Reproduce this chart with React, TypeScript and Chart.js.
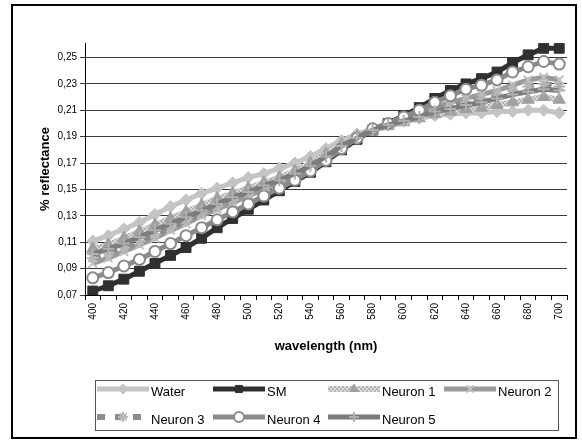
import React, { useEffect, useRef } from "react";
import { Chart, registerables } from "chart.js";
import { drawPoint } from "chart.js/helpers";

Chart.register(...registerables);

const wavelengths = [
  "400", "410", "420", "430", "440", "450", "460", "470", "480", "490", "500",
  "510", "520", "530", "540", "550", "560", "570", "580", "590", "600",
  "610", "620", "630", "640", "650", "660", "670", "680", "690", "700",
];

const yTicks = [0.07, 0.09, 0.11, 0.13, 0.15, 0.17, 0.19, 0.21, 0.23, 0.25];

const water = [
  0.111, 0.115, 0.12, 0.125, 0.131, 0.137, 0.142, 0.147, 0.151, 0.155, 0.159,
  0.162, 0.166, 0.17, 0.175, 0.181, 0.187, 0.192, 0.196, 0.199, 0.202,
  0.204, 0.206, 0.207, 0.208, 0.208, 0.209, 0.209, 0.21, 0.21, 0.208,
];
const sm = [
  0.073, 0.077, 0.082, 0.088, 0.094, 0.1, 0.106, 0.113, 0.121, 0.128, 0.135,
  0.142, 0.149, 0.156, 0.163, 0.171, 0.18, 0.188, 0.195, 0.2, 0.206,
  0.212, 0.219, 0.225, 0.23, 0.234, 0.239, 0.246, 0.252, 0.257, 0.257,
];
const neuron1 = [
  0.105, 0.108, 0.113, 0.118, 0.123, 0.128, 0.133, 0.138, 0.143, 0.147, 0.151,
  0.155, 0.159, 0.164, 0.17, 0.177, 0.184, 0.19, 0.195, 0.198, 0.201,
  0.204, 0.207, 0.209, 0.211, 0.212, 0.214, 0.216, 0.218, 0.22, 0.218,
];
const neuron2 = [
  0.094, 0.098, 0.103, 0.108, 0.113, 0.119, 0.124, 0.13, 0.135, 0.14, 0.145,
  0.15, 0.155, 0.16, 0.166, 0.174, 0.182, 0.189, 0.195, 0.199, 0.203,
  0.207, 0.212, 0.216, 0.219, 0.222, 0.225, 0.229, 0.233, 0.235, 0.233,
];
const neuron3 = [
  0.098, 0.102, 0.106, 0.111, 0.116, 0.121, 0.127, 0.132, 0.137, 0.142, 0.146,
  0.151, 0.156, 0.161, 0.167, 0.175, 0.182, 0.189, 0.195, 0.199, 0.202,
  0.206, 0.21, 0.213, 0.216, 0.219, 0.222, 0.225, 0.228, 0.23, 0.228,
];
const neuron4 = [
  0.083, 0.087, 0.092, 0.097, 0.103, 0.109, 0.115, 0.121, 0.127, 0.133, 0.139,
  0.145, 0.151, 0.157, 0.164, 0.172, 0.181, 0.189, 0.196, 0.2, 0.205,
  0.21, 0.216, 0.221, 0.226, 0.229, 0.233, 0.239, 0.243, 0.247, 0.245,
];
const neuron5 = [
  0.101, 0.105, 0.109, 0.114, 0.119, 0.124, 0.129, 0.134, 0.139, 0.144, 0.148,
  0.153, 0.157, 0.162, 0.168, 0.175, 0.183, 0.189, 0.195, 0.199, 0.202,
  0.205, 0.209, 0.211, 0.214, 0.216, 0.219, 0.222, 0.224, 0.226, 0.225,
];

const seriesNames = ["Water", "SM", "Neuron 1", "Neuron 2", "Neuron 3", "Neuron 4", "Neuron 5"];

const FONT = "Arial, 'Liberation Sans', sans-serif";

export default function App() {
  const ref = useRef<HTMLCanvasElement | null>(null);

  useEffect(() => {
    if (!ref.current) return;

    const pc = document.createElement("canvas");
    pc.width = 4;
    pc.height = 4;
    const px = pc.getContext("2d")!;
    px.fillStyle = "#dadada";
    px.fillRect(0, 0, 4, 4);
    px.fillStyle = "#b4b4b4";
    px.fillRect(0, 0, 2, 2);
    px.fillRect(2, 2, 2, 2);
    const pattern = px.createPattern(pc, "repeat")!;

    const styles = [
      { data: water, color: "#c4c4c4", point: "rectRot", pFill: "#c4c4c4", pBorder: "#c4c4c4", r: 6, bw: 1, dash: [] as number[], lw: 5 },
      { data: sm, color: "#303030", point: "rect", pFill: "#303030", pBorder: "#303030", r: 7, bw: 1, dash: [], lw: 5 },
      { data: neuron1, color: pattern as any, point: "triangle", pFill: "#a0a0a0", pBorder: "#a0a0a0", r: 7, bw: 1, dash: [], lw: 6 },
      { data: neuron2, color: "#9a9a9a", point: "crossRot", pFill: "#c0c0c0", pBorder: "#c0c0c0", r: 6, bw: 2, dash: [], lw: 5 },
      { data: neuron3, color: "#8c8c8c", point: "star", pFill: "#b8b8b8", pBorder: "#b8b8b8", r: 6, bw: 2, dash: [8, 10], lw: 6 },
      { data: neuron4, color: "#8a8a8a", point: "circle", pFill: "#ffffff", pBorder: "#8a8a8a", r: 5.5, bw: 2, dash: [], lw: 5 },
      { data: neuron5, color: "#7c7c7c", point: "cross", pFill: "#b0b0b0", pBorder: "#b0b0b0", r: 6, bw: 2, dash: [], lw: 5 },
    ];

    const datasets = styles.map((s, i) => ({
      label: seriesNames[i],
      data: s.data,
      borderColor: s.color,
      borderWidth: s.lw,
      borderDash: s.dash,
      pointStyle: s.point as any,
      pointBackgroundColor: s.pFill,
      pointBorderColor: s.pBorder,
      pointBorderWidth: s.bw,
      pointRadius: s.r,
      pointHoverRadius: s.r,
      tension: 0,
      fill: false,
      order: 6 - i,
    }));

    const frame = {
      id: "frame",
      beforeDraw(chart: any) {
        const ctx = chart.ctx;
        ctx.save();
        ctx.fillStyle = "#ffffff";
        ctx.fillRect(0, 0, chart.width, chart.height);
        ctx.strokeStyle = "#000000";
        ctx.lineWidth = 2;
        ctx.strokeRect(12, 5, 564, 433);
        ctx.restore();
      },
      afterDraw(chart: any) {
        const ctx = chart.ctx;
        ctx.save();
        ctx.strokeStyle = "#555555";
        ctx.lineWidth = 1;
        ctx.strokeRect(95.5, 380.5, 463, 50);
        const cols = [97, 213, 328, 444];
        const rows = [392, 420];
        ctx.font = `13px ${FONT}`;
        ctx.textBaseline = "middle";
        ctx.textAlign = "left";
        styles.forEach((s, i) => {
          const col = i < 4 ? i : i - 4;
          const row = i < 4 ? 0 : 1;
          const x0 = cols[col];
          const y = rows[row] - 3;
          ctx.save();
          ctx.strokeStyle = s.color;
          ctx.lineWidth = s.lw;
          ctx.setLineDash(s.dash);
          ctx.beginPath();
          ctx.moveTo(x0, y);
          ctx.lineTo(x0 + 52, y);
          ctx.stroke();
          ctx.restore();
          ctx.save();
          ctx.fillStyle = s.pFill;
          ctx.strokeStyle = s.pBorder;
          ctx.lineWidth = s.bw;
          drawPoint(ctx, { pointStyle: s.point as any, radius: Math.min(s.r, 5), rotation: 0, borderWidth: s.bw }, x0 + 26, y);
          ctx.restore();
          ctx.fillStyle = "#000000";
          ctx.fillText(seriesNames[i], x0 + 54, rows[row]);
        });
        ctx.restore();
      },
    };

    const chart = new Chart(ref.current, {
      type: "line",
      data: { labels: wavelengths, datasets },
      plugins: [frame],
      options: {
        responsive: false,
        animation: false,
        events: [],
        layout: { padding: { left: 34, top: 43, right: 15, bottom: 85 } },
        plugins: { legend: { display: false }, tooltip: { enabled: false } },
        scales: {
          x: {
            type: "category",
            offset: true,
            afterFit(scale: any) {
              scale.height = 63;
            },
            grid: {
              offset: true,
              drawOnChartArea: false,
              drawTicks: true,
              tickLength: 5,
              color: "#000000",
            },
            border: { display: true, color: "#000000", width: 1 },
            ticks: {
              autoSkip: false,
              minRotation: 90,
              maxRotation: 90,
              padding: 3,
              color: "#000000",
              font: { family: FONT, size: 10 },
              callback: (_v: any, idx: number) => (idx % 2 === 0 ? wavelengths[idx] : ""),
            },
            title: {
              display: true,
              text: "wavelength (nm)",
              color: "#000000",
              font: { family: FONT, size: 13, weight: "bold" },
              padding: { top: 4, bottom: 4 },
            },
          },
          y: {
            type: "linear",
            min: 0.07,
            max: 0.261,
            afterFit(scale: any) {
              scale.width = 51;
            },
            afterBuildTicks(scale: any) {
              scale.ticks = yTicks.map((v) => ({ value: v }));
            },
            grid: {
              drawOnChartArea: true,
              drawTicks: true,
              tickLength: 5,
              color: "#3a3a3a",
              lineWidth: 1,
            },
            border: { display: true, color: "#000000", width: 1 },
            ticks: {
              padding: 3,
              color: "#000000",
              font: { family: FONT, size: 10 },
              callback: (v: any) => Number(v).toFixed(2).replace(".", ","),
            },
            title: {
              display: true,
              text: "% reflectance",
              color: "#000000",
              font: { family: FONT, size: 13, weight: "bold" },
              padding: { top: 4, bottom: 4 },
            },
          },
        },
      },
    });

    return () => chart.destroy();
  }, []);

  return (
    <div style={{ position: "absolute", left: 0, top: 0, width: 582, height: 443 }}>
      <canvas ref={ref} width={582} height={443} style={{ display: "block" }} />
    </div>
  );
}
